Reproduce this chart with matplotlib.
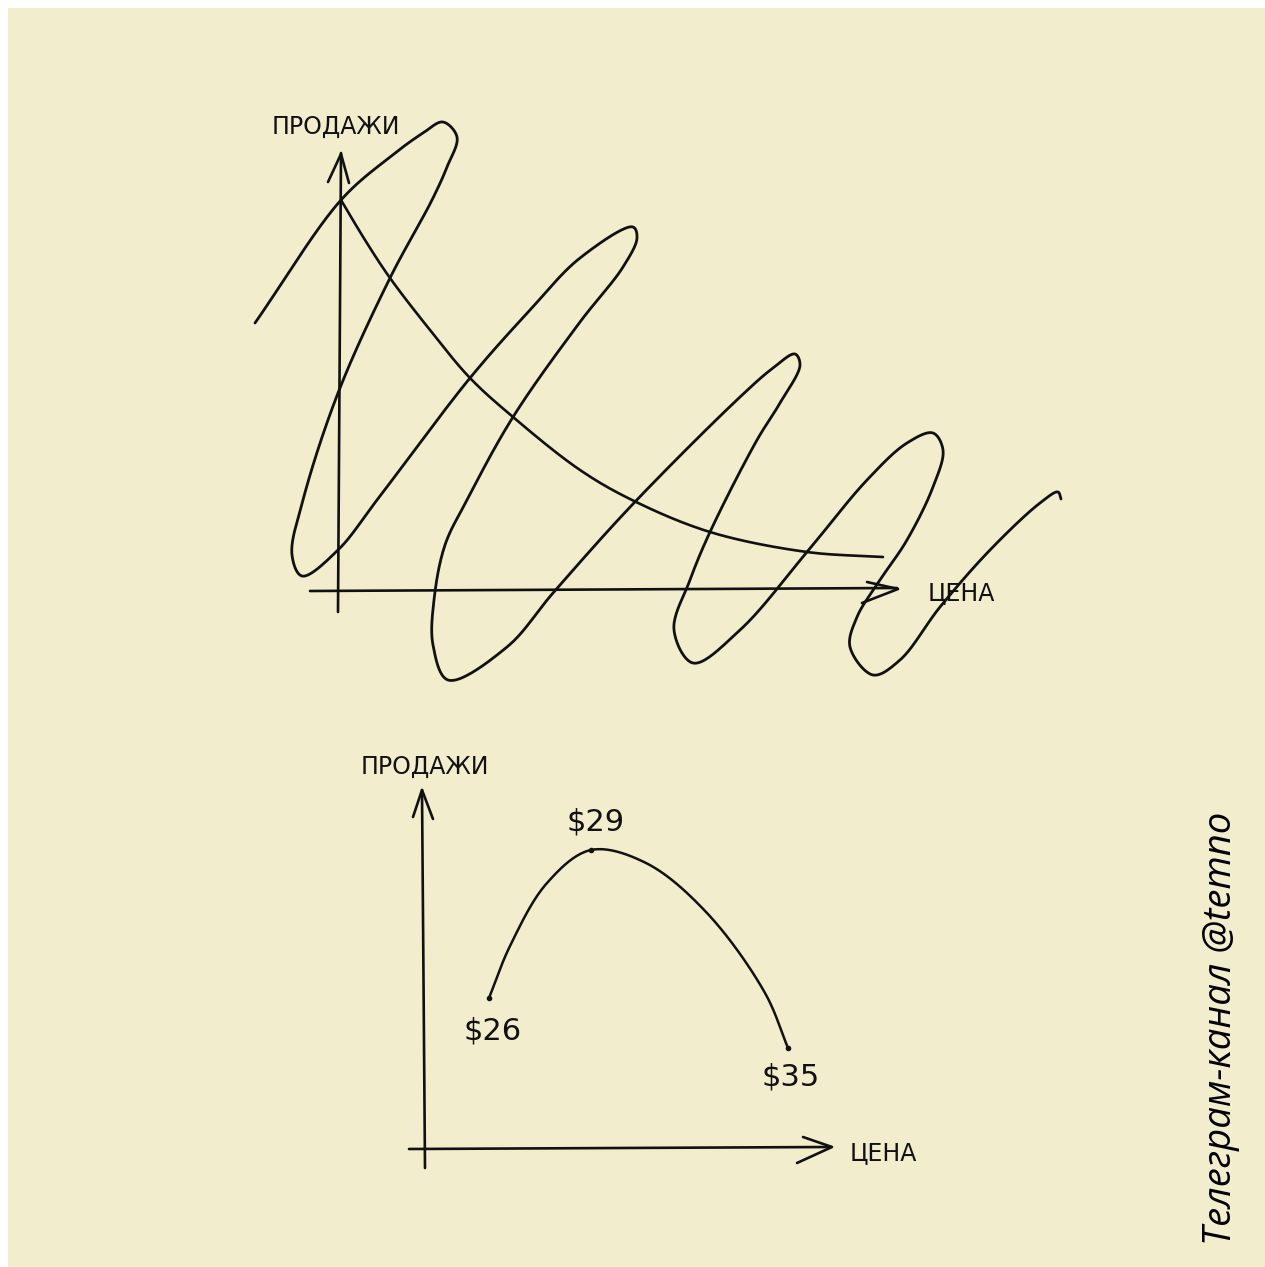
import matplotlib
matplotlib.use("Agg")
import matplotlib.pyplot as plt
from matplotlib.patches import Rectangle
import numpy as np

# Цвета
bg_color = '#f2edcc'
ink = '#111111'

# Верхний рисунок: "каракуля" (опорные точки в пикселях картинки)
scribble_x = [255, 341, 390, 423, 443, 457, 447, 432, 390, 338, 303, 292, 302,
              338, 377, 470, 530, 580, 633, 637, 623, 580, 513, 467, 445, 434, 433, 448,
              507, 553, 632, 740, 773, 795, 800, 780, 757, 710, 690, 674, 693,
              740, 807, 867, 907, 933, 943, 933, 907, 880, 857, 850, 873,
              900, 940, 990, 1040, 1058, 1061]
scribble_y = [323, 200, 157, 133, 122, 137, 167, 200, 278, 393, 500, 555, 576,
              550, 500, 378, 310, 258, 227, 238, 267, 322, 417, 500, 545, 600, 645, 680,
              647, 593, 505, 397, 368, 354, 365, 403, 440, 532, 580, 630, 663,
              630, 552, 480, 443, 433, 450, 487, 540, 580, 617, 647, 675,
              660, 607, 550, 503, 492, 499]

# Верхний рисунок: убывающая кривая спроса
demand_x = [341, 365, 390, 430, 470, 513, 580, 632, 710, 807, 883]
demand_y = [200, 240, 278, 330, 378, 417, 470, 500, 532, 552, 557]

# Нижний рисунок: кривая продаж
sales_x = [489, 510, 547, 591, 646, 707, 765, 788]
sales_y = [998, 946, 883, 850, 863, 913, 993, 1048]

# Подписи цен
price_labels = ['$26', '$29', '$35']
price_pos = [(493, 1031), (596, 822), (791, 1077)]

W, H = 1265, 1267


def smooth(xs, ys, n=24, alpha=0.5):
    # центростремительный сплайн Катмулла-Рома через опорные точки
    P = np.column_stack([xs, ys]).astype(float)
    P = np.vstack([2 * P[0] - P[1], P, 2 * P[-1] - P[-2]])
    out = []
    for i in range(1, len(P) - 2):
        p0, p1, p2, p3 = P[i - 1], P[i], P[i + 1], P[i + 2]
        t0 = 0.0
        t1 = t0 + np.linalg.norm(p1 - p0) ** alpha
        t2 = t1 + np.linalg.norm(p2 - p1) ** alpha
        t3 = t2 + np.linalg.norm(p3 - p2) ** alpha
        t = np.linspace(t1, t2, n)[:, None]
        a1 = (t1 - t) / (t1 - t0) * p0 + (t - t0) / (t1 - t0) * p1
        a2 = (t2 - t) / (t2 - t1) * p1 + (t - t1) / (t2 - t1) * p2
        a3 = (t3 - t) / (t3 - t2) * p2 + (t - t2) / (t3 - t2) * p3
        b1 = (t2 - t) / (t2 - t0) * a1 + (t - t0) / (t2 - t0) * a2
        b2 = (t3 - t) / (t3 - t1) * a2 + (t - t1) / (t3 - t1) * a3
        c = (t2 - t) / (t2 - t1) * b1 + (t - t1) / (t2 - t1) * b2
        out.append(c if i == 1 else c[1:])
    c = np.vstack(out)
    return c[:, 0], c[:, 1]


fig = plt.figure(figsize=(W / 100, H / 100), dpi=100)
ax = fig.add_axes([0, 0, 1, 1])
ax.set_xlim(0, W)
ax.set_ylim(H, 0)
ax.axis('off')
fig.patch.set_facecolor('white')

ax.add_patch(Rectangle((8, 8), W - 8, H - 8, facecolor=bg_color, edgecolor='none'))

line_kw = dict(color=ink, lw=1.9, solid_capstyle='round', solid_joinstyle='round')

# --- верхний график ---
ax.plot([338, 341], [612, 153], **line_kw)
ax.plot([328, 341, 349], [182, 154, 183], **line_kw)
ax.plot([310, 897], [591, 588], **line_kw)
ax.plot([867, 898, 862], [582, 589, 603], **line_kw)

ax.plot(*smooth(demand_x, demand_y), **line_kw)
sx, sy = smooth(scribble_x, scribble_y)
ax.plot(sx, sy, color=ink, lw=2.0, solid_capstyle='round', solid_joinstyle='round')

label_kw = dict(color=ink, fontsize=17, family='DejaVu Sans', ha='center', va='center')
ax.text(336, 127, 'ПРОДАЖИ', **label_kw)
ax.text(961, 593, 'ЦЕНА', **label_kw)

# --- нижний график ---
ax.plot([425, 422], [1168, 790], **line_kw)
ax.plot([413, 422, 433], [817, 790, 819], **line_kw)
ax.plot([409, 831], [1149, 1147], **line_kw)
ax.plot([803, 832, 797], [1137, 1147, 1163], **line_kw)

ax.plot(*smooth(sales_x, sales_y), color=ink, lw=1.8, solid_capstyle='round')
ax.plot([sales_x[0], sales_x[3], sales_x[-1]], [sales_y[0], sales_y[3], sales_y[-1]],
        'o', color=ink, ms=3)

ax.text(425, 767, 'ПРОДАЖИ', **label_kw)
ax.text(883, 1153, 'ЦЕНА', **label_kw)
for lab, (px, py) in zip(price_labels, price_pos):
    ax.text(px, py, lab, color=ink, fontsize=22, family='DejaVu Sans', ha='center', va='center')

# подпись канала
ax.text(1221, 1028, 'Телеграм-канал @temno', rotation=90, color='black', fontsize=27.5,
        family='Open Sans', style='italic', ha='center', va='center')

fig.savefig('out.png', dpi=100)
plt.close(fig)
